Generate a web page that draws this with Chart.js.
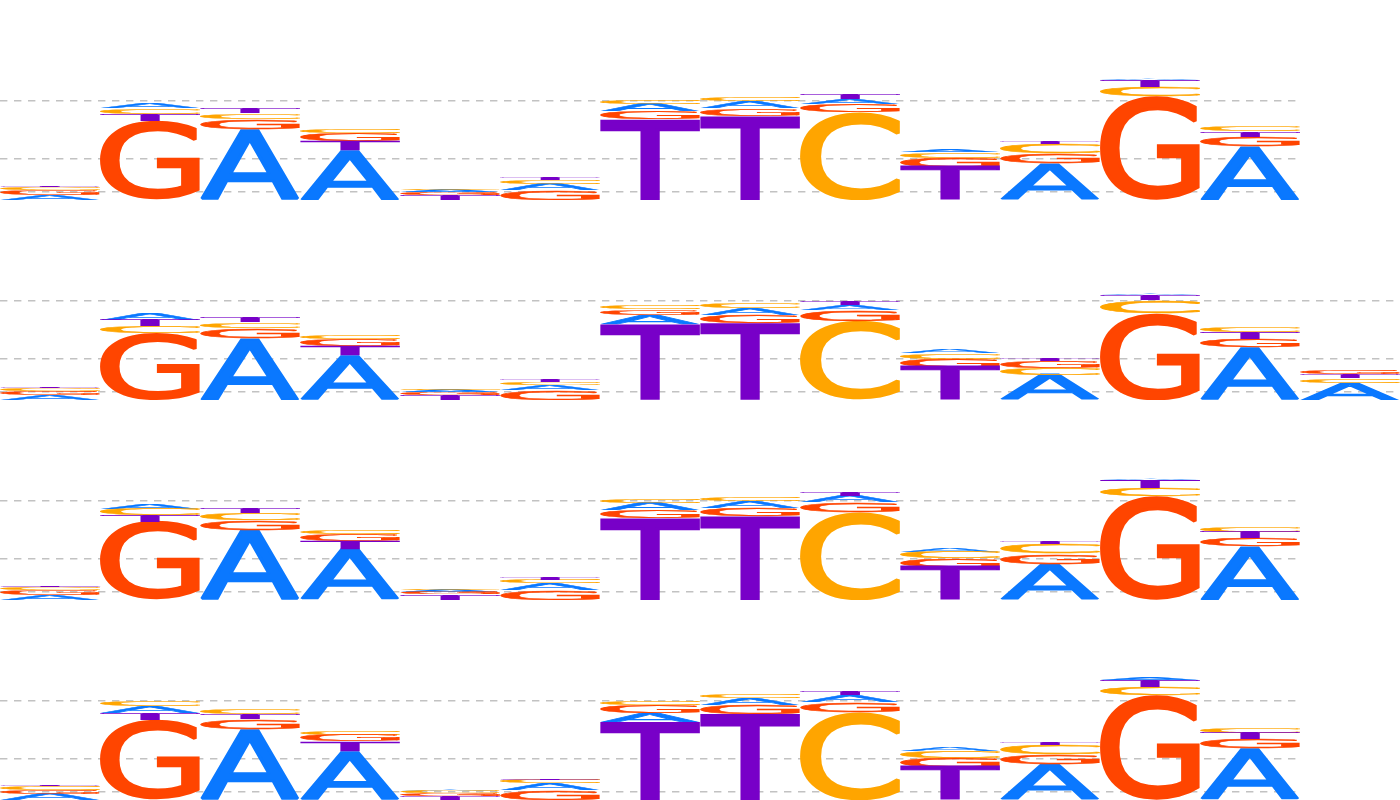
<!DOCTYPE html>
<html>
<head>
<meta charset="utf-8">
<script src="https://cdn.jsdelivr.net/npm/chart.js@4.4.1/dist/chart.umd.min.js"></script>
<style>
  html, body { margin: 0; padding: 0; background: #fff; overflow: hidden; }
  .row { position: absolute; left: 0; height: 200px; }
  canvas { display: block; }
</style>
</head>
<body>
<div class="row" style="top:0px"><canvas id="logo1" width="1300" height="200"></canvas></div>
<div class="row" style="top:200px"><canvas id="logo2" width="1400" height="200"></canvas></div>
<div class="row" style="top:400px"><canvas id="logo3" width="1300" height="200"></canvas></div>
<div class="row" style="top:600px"><canvas id="logo4" width="1300" height="200"></canvas></div>
<script>
// Harflar va ranglar
const letters = ['A', 'C', 'G', 'T'];
const letterColors = { A: '#0a78ff', C: '#ffa500', G: '#ff4500', T: '#7800c8' };

// Gorizontal chiziqlar (bits)
const gridValues = [0.08, 0.41, 0.99];

// 1-qator (13 ustun), balandliklar bitlarda
const row1A = [0.052, 0.050, 0.710, 0.500, 0.020, 0.060, 0.074, 0.073, 0.057, 0.030, 0.370, 0.008, 0.540];
const row1C = [0.030, 0.060, 0.060, 0.033, 0.010, 0.035, 0.033, 0.040, 0.880, 0.057, 0.090, 0.090, 0.054];
const row1G = [0.050, 0.790, 0.100, 0.077, 0.030, 0.100, 0.076, 0.075, 0.077, 0.090, 0.100, 1.040, 0.090];
const row1T = [0.010, 0.065, 0.045, 0.090, 0.050, 0.020, 0.810, 0.840, 0.050, 0.330, 0.020, 0.070, 0.056];

// 2-qator (14 ustun)
const row2A = [0.050, 0.060, 0.620, 0.450, 0.024, 0.050, 0.090, 0.070, 0.046, 0.035, 0.250, 0.015, 0.530, 0.170];
const row2C = [0.030, 0.070, 0.060, 0.040, 0.015, 0.030, 0.040, 0.050, 0.790, 0.060, 0.072, 0.127, 0.050, 0.045];
const row2G = [0.040, 0.670, 0.100, 0.070, 0.026, 0.100, 0.060, 0.080, 0.110, 0.080, 0.068, 0.870, 0.080, 0.040];
const row2T = [0.010, 0.062, 0.050, 0.090, 0.050, 0.020, 0.760, 0.770, 0.044, 0.330, 0.025, 0.057, 0.070, 0.042];

// 3-qator (13 ustun)
const row3A = [0.052, 0.050, 0.700, 0.510, 0.020, 0.067, 0.074, 0.067, 0.060, 0.033, 0.360, 0.010, 0.540];
const row3C = [0.030, 0.065, 0.067, 0.043, 0.010, 0.033, 0.033, 0.040, 0.880, 0.067, 0.100, 0.083, 0.057];
const row3G = [0.050, 0.780, 0.100, 0.067, 0.027, 0.100, 0.076, 0.083, 0.097, 0.083, 0.102, 1.040, 0.083];
const row3T = [0.015, 0.067, 0.050, 0.080, 0.057, 0.020, 0.820, 0.840, 0.040, 0.330, 0.023, 0.073, 0.060];

// 4-qator (13 ustun)
const row4A = [0.060, 0.066, 0.710, 0.490, 0.015, 0.067, 0.090, 0.067, 0.067, 0.033, 0.360, 0.023, 0.520];
const row4C = [0.040, 0.057, 0.050, 0.043, 0.020, 0.033, 0.033, 0.033, 0.880, 0.067, 0.093, 0.083, 0.057];
const row4G = [0.042, 0.800, 0.100, 0.067, 0.025, 0.100, 0.077, 0.090, 0.100, 0.090, 0.100, 1.050, 0.090];
const row4T = [0.010, 0.068, 0.053, 0.093, 0.040, 0.017, 0.780, 0.860, 0.033, 0.330, 0.023, 0.067, 0.060];

// Harfni to'rtburchak ichiga cho'zib chizish (oddiy shrift + ingichka kontur)
const GLYPH_STROKE = 5;
function drawGlyph(ctx, ch, color, x, y, w, h) {
    ctx.save();
    ctx.font = '200px "DejaVu Sans"';
    ctx.textAlign = 'left';
    ctx.textBaseline = 'alphabetic';
    const m = ctx.measureText(ch);
    const half = GLYPH_STROKE / 2;
    const gw = m.actualBoundingBoxLeft + m.actualBoundingBoxRight + GLYPH_STROKE;
    const gh = m.actualBoundingBoxAscent + m.actualBoundingBoxDescent + GLYPH_STROKE;
    ctx.translate(x, y);
    ctx.scale(w / gw, h / gh);
    ctx.fillStyle = color;
    ctx.strokeStyle = color;
    ctx.lineWidth = GLYPH_STROKE;
    ctx.lineJoin = 'miter';
    ctx.miterLimit = 1.5;
    const tx = m.actualBoundingBoxLeft + half;
    const ty = m.actualBoundingBoxAscent + half;
    ctx.fillText(ch, tx, ty);
    ctx.strokeText(ch, tx, ty);
    ctx.restore();
}

const glyphPlugin = {
    id: 'glyphs',
    afterDatasetsDraw(chart) {
        const ctx = chart.ctx;
        ctx.save();
        ctx.beginPath();
        ctx.rect(chart.chartArea.left, chart.chartArea.top, chart.chartArea.width, chart.chartArea.height);
        ctx.clip();
        chart.data.datasets.forEach((ds, di) => {
            const meta = chart.getDatasetMeta(di);
            meta.data.forEach(bar => {
                const top = Math.min(bar.y, bar.base);
                const h = Math.abs(bar.base - bar.y);
                if (h < 0.3) return;
                drawGlyph(ctx, ds.label, ds.glyphColor, bar.x - bar.width / 2, top, bar.width, h);
            });
        });
        ctx.restore();
    }
};

// Har ustunda kattasi pastda bo'ladigan qilib joylash
function buildStacks(values) {
    const n = values.A.length;
    const ranges = { A: [], C: [], G: [], T: [] };
    for (let i = 0; i < n; i++) {
        const order = letters.slice().sort((a, b) => values[b][i] - values[a][i]);
        let base = 0;
        order.forEach(l => {
            ranges[l][i] = [base, base + values[l][i]];
            base += values[l][i];
        });
    }
    return ranges;
}

function createLogo(canvasId, values) {
    const canvas = document.getElementById(canvasId);
    const ranges = buildStacks(values);
    const labels = values.A.map((_, i) => String(i + 1));
    return new Chart(canvas, {
        type: 'bar',
        data: {
            labels: labels,
            datasets: letters.map(l => ({
                label: l,
                data: ranges[l],
                glyphColor: letterColors[l],
                backgroundColor: 'rgba(0,0,0,0)',
                borderWidth: 0,
                grouped: false,
                barPercentage: 1,
                categoryPercentage: 1
            }))
        },
        options: {
            responsive: false,
            animation: false,
            events: [],
            layout: { padding: 0 },
            plugins: { legend: { display: false }, tooltip: { enabled: false } },
            scales: {
                x: { display: false, offset: true },
                y: {
                    min: 0,
                    max: 2,
                    ticks: { display: false },
                    afterBuildTicks: scale => { scale.ticks = gridValues.map(v => ({ value: v })); },
                    grid: { color: '#c2c2c2', lineWidth: 1.6, drawTicks: false },
                    border: { display: false, dash: [7.4, 6.6] }
                }
            }
        },
        plugins: [glyphPlugin]
    });
}

createLogo('logo1', { A: row1A, C: row1C, G: row1G, T: row1T });
createLogo('logo2', { A: row2A, C: row2C, G: row2G, T: row2T });
createLogo('logo3', { A: row3A, C: row3C, G: row3G, T: row3T });
createLogo('logo4', { A: row4A, C: row4C, G: row4G, T: row4T });
</script>
</body>
</html>
